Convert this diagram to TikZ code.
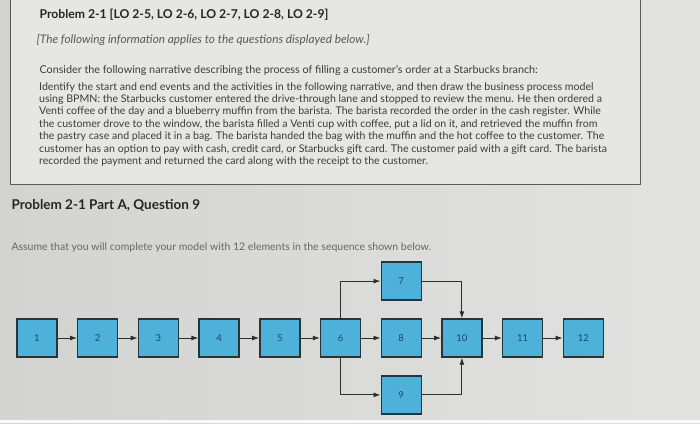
\documentclass[tikz,border=0pt]{standalone}
\usepackage{fontspec}
\setmainfont{Lato}
\usepackage{tikz}
\usetikzlibrary{arrows.meta, positioning}
\definecolor{bgl}{HTML}{D3D3D1}
\definecolor{bgr}{HTML}{E2E2E1}
\definecolor{panel}{HTML}{E6E6E4}
\definecolor{panelline}{HTML}{5A5A5A}
\definecolor{txt}{HTML}{3C3C3C}
\definecolor{elblue}{HTML}{4DB1DA}
\definecolor{elline}{HTML}{27343A}
\definecolor{elnum}{HTML}{1E4A60}
\definecolor{flow}{HTML}{2E2E2E}

\begin{document}
\begin{tikzpicture}[x=1pt, y=1pt, node distance=17.5pt and 19.3pt, every node/.style={text=txt}]
	\tikzstyle{el}=[draw=elline,line width=1.4pt,fill=elblue,minimum width=40pt,minimum height=38pt,inner sep=0pt,text=elnum,font=\fontsize{9.5}{11}\selectfont]
	\tikzstyle{f}=[draw=flow,line width=0.9pt,-{Latex[length=7pt,width=5pt]}]
  \useasboundingbox (0,0) rectangle (700,423);
  \shade[left color=bgl, right color=bgr] (0,0) rectangle (700,423);
  \fill[white!85!bgr] (0,0) rectangle (700,3);
  % text panel
  \draw[panelline, line width=0.8pt, fill=panel] (10,239) rectangle (640,430);
  \node[anchor=west, font=\bfseries\fontsize{12.2}{14}\selectfont, text=black!85] (title) at (36,408) {Problem 2-1 [LO 2-5, LO 2-6, LO 2-7, LO 2-8, LO 2-9]};
  \node[anchor=west, font=\itshape\fontsize{11.8}{14}\selectfont, text=black!65] (note) at (33,383) {[The following information applies to the questions displayed below.]};
  \node[anchor=west, font=\fontsize{10.8}{13}\selectfont] (intro) at (36,353) {Consider the following narrative describing the process of filling a customer's order at a Starbucks branch:};
  \node[anchor=north west, align=left, inner sep=0pt, font=\fontsize{10.6}{12.4}\selectfont] (story) at (39,341) {Identify the start and end events and the activities in the following narrative, and then draw the business process model\\
using BPMN: the Starbucks customer entered the drive-through lane and stopped to review the menu. He then ordered a\\
Venti coffee of the day and a blueberry muffin from the barista. The barista recorded the order in the cash register. While\\
the customer drove to the window, the barista filled a Venti cup with coffee, put a lid on it, and retrieved the muffin from\\
the pastry case and placed it in a bag. The barista handed the bag with the muffin and the hot coffee to the customer. The\\
customer has an option to pay with cash, credit card, or Starbucks gift card. The customer paid with a gift card. The barista\\
recorded the payment and returned the card along with the receipt to the customer.};
  % question
  \node[anchor=west, font=\bfseries\fontsize{13.5}{15}\selectfont, text=black!85] (part) at (8,218) {Problem 2-1 Part A, Question 9};
  \node[anchor=west, font=\fontsize{10.5}{12}\selectfont, text=black!60] (assume) at (8,175) {Assume that you will complete your model with 12 elements in the sequence shown below.};
  % model
  \node[el] (e1) at (37,85) {1};
  \node[el,right=of e1] (e2) {2};
  \node[el,right=of e2] (e3) {3};
  \node[el,right=of e3] (e4) {4};
  \node[el,right=of e4] (e5) {5};
  \node[el,right=of e5] (e6) {6};
  \node[el,right=of e6] (e8) {8};
  \node[el,above=of e8] (e7) {7};
  \node[el,below=of e8] (e9) {9};
  \node[el,right=of e8] (e10) {10};
  \node[el,right=of e10] (e11) {11};
  \node[el,right=of e11] (e12) {12};
  \draw[f] (e1) -- (e2);
  \draw[f] (e2) -- (e3);
  \draw[f] (e3) -- (e4);
  \draw[f] (e4) -- (e5);
  \draw[f] (e5) -- (e6);
  \draw[f] (e6) -- (e8);
  \draw[f] (e6) |- (e7);
  \draw[f] (e6) |- (e9);
  \draw[f] (e8) -- (e10);
  \draw[f] (e7) -| (e10);
  \draw[f] (e9) -| (e10);
  \draw[f] (e10) -- (e11);
  \draw[f] (e11) -- (e12);
\end{tikzpicture}
\end{document}
